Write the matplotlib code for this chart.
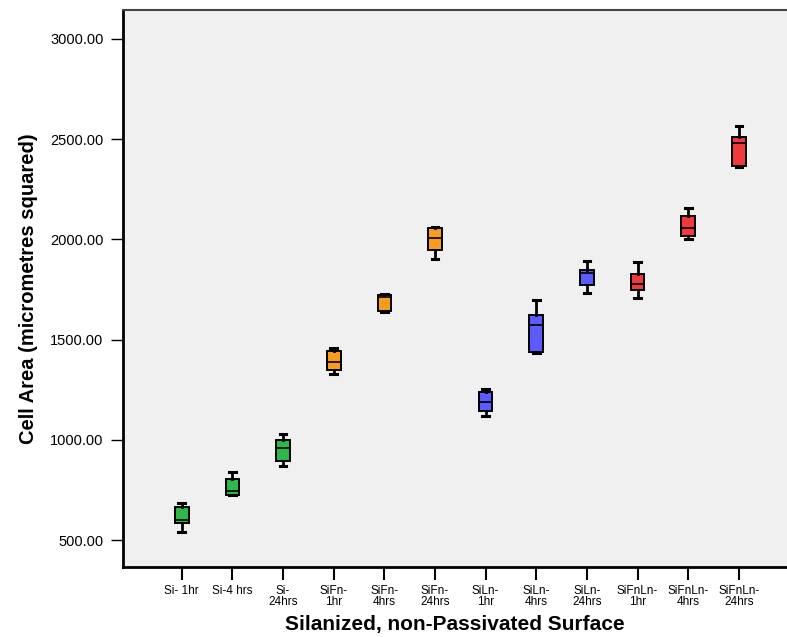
import matplotlib
matplotlib.use('Agg')
import matplotlib.pyplot as plt

plt.rcParams['font.family'] = ['Liberation Sans', 'DejaVu Sans']

# group labels (two-line tick labels as in the original)
labels = ['Si- 1hr', 'Si-4 hrs', 'Si-\n24hrs',
          'SiFn-\n1hr', 'SiFn-\n4hrs', 'SiFn-\n24hrs',
          'SiLn-\n1hr', 'SiLn-\n4hrs', 'SiLn-\n24hrs',
          'SiFnLn-\n1hr', 'SiFnLn-\n4hrs', 'SiFnLn-\n24hrs']

# box statistics
whis_lo = [541, 724, 871, 1329, 1636, 1902, 1120, 1432, 1734, 1708, 2001, 2360]
q1      = [584, 727, 894, 1349, 1643, 1948, 1143, 1440, 1772, 1749, 2015, 2368]
median  = [599, 743, 961, 1390, 1711, 2005, 1191, 1573, 1834, 1777, 2056, 2483]
q3      = [665, 805, 999, 1442, 1724, 2055, 1238, 1621, 1846, 1827, 2119, 2513]
whis_hi = [685, 840, 1027, 1459, 1729, 2063, 1256, 1699, 1893, 1887, 2156, 2566]

group_colors = ['#2cb84a'] * 3 + ['#f89c1e'] * 3 + ['#5b5bff'] * 3 + ['#f0383f'] * 3

stats = []
for i in range(len(labels)):
    stats.append(dict(whislo=whis_lo[i], q1=q1[i], med=median[i],
                      q3=q3[i], whishi=whis_hi[i], fliers=[]))

fig = plt.figure(figsize=(7.87, 6.37), dpi=100)
ax = fig.add_axes([0.1563, 0.1099, 0.8437, 0.8744])
ax.set_facecolor('#f0f0f0')

pos = list(range(len(labels)))
bp = ax.bxp(stats, positions=pos, widths=0.27, capwidths=0.13,
            patch_artist=True, showfliers=False,
            boxprops=dict(edgecolor='black', linewidth=1.4),
            medianprops=dict(color='black', linewidth=1.2),
            whiskerprops=dict(color='black', linewidth=2),
            capprops=dict(color='black', linewidth=2.2))
for box, c in zip(bp['boxes'], group_colors):
    box.set_facecolor(c)

ax.set_xlim(-1.16, 11.95)
ax.set_ylim(366, 3144)
ax.set_yticks([500, 1000, 1500, 2000, 2500, 3000])
ax.set_yticklabels(['%.2f' % v for v in [500, 1000, 1500, 2000, 2500, 3000]], fontsize=10.5)
ax.set_xticks(pos)
ax.set_xticklabels(labels, fontsize=8.5, linespacing=0.9)
ax.tick_params(axis='y', length=9, width=1, pad=5)
ax.tick_params(axis='x', length=9, width=1.5, pad=4)

ax.spines['right'].set_visible(False)
ax.spines['left'].set_linewidth(2)
ax.spines['bottom'].set_linewidth(2)
ax.spines['top'].set_linewidth(1.5)
ax.spines['top'].set_color('#444444')

ax.set_xlabel('Silanized, non-Passivated Surface', fontsize=15, fontweight='bold', labelpad=5)
ax.set_ylabel('Cell Area (micrometres squared)', fontsize=14.5, fontweight='bold', labelpad=9)

fig.savefig('out.png', dpi=100)
